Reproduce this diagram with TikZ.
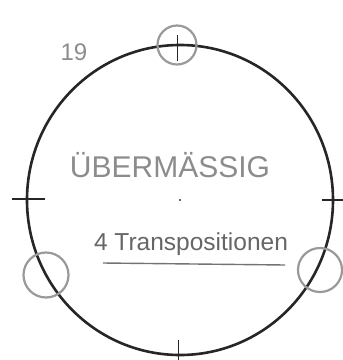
\documentclass[tikz,border=0pt]{standalone}
\usepackage{fontspec}
\setmainfont{Liberation Sans}
\begin{document}
\begin{tikzpicture}[x=1pt,y=-1pt,
  main/.style={draw=black!85,line width=2.6pt},
  tick/.style={draw=black!85,line width=1.1pt},
  ring/.style={draw=black!40,line width=2.2pt},
  pencil/.style={text=black!45,inner sep=0pt}]
\useasboundingbox (0,0) rectangle (343,360);
\coordinate (c) at (180,200);
\draw[main] (c) ellipse [x radius=153, y radius=155];
\fill[black!80] (c) circle (1.2);
% ticks
\coordinate (t1) at (177,35); \coordinate (t2) at (177,61);
\draw[tick,line width=0.8pt] (t1) -- (t2);
\coordinate (l1) at (12,199); \coordinate (l2) at (45,199);
\draw[tick] (l1) -- (l2);
\coordinate (r1) at (322,200); \coordinate (r2) at (343,200);
\draw[tick] (r1) -- (r2);
\coordinate (b1) at (178,340); \coordinate (b2) at (178,360);
\draw[tick,line width=0.8pt] (b1) -- (b2);
% rings
\draw[ring] (177,45) circle (19.5);
\draw[ring] (46,275) circle (22.5);
\draw[ring] (320,270) circle (22);
% texts
\node[pencil,font=\fontsize{24}{24}\selectfont] (n19) at (74,52) {19};
\node[pencil,font=\fontsize{30}{30}\selectfont] (ueb) at (170,165) {ÜBERMÄSSIG};
\node[text=black!60,inner sep=0pt,font=\fontsize{24.5}{24.5}\selectfont] (tr) at (191,244) {4 Transpositionen};
\coordinate (u1) at (103,263); \coordinate (u2) at (285,265);
\draw[draw=black!55,line width=1.4pt] (u1) -- (u2);
\end{tikzpicture}
\end{document}
